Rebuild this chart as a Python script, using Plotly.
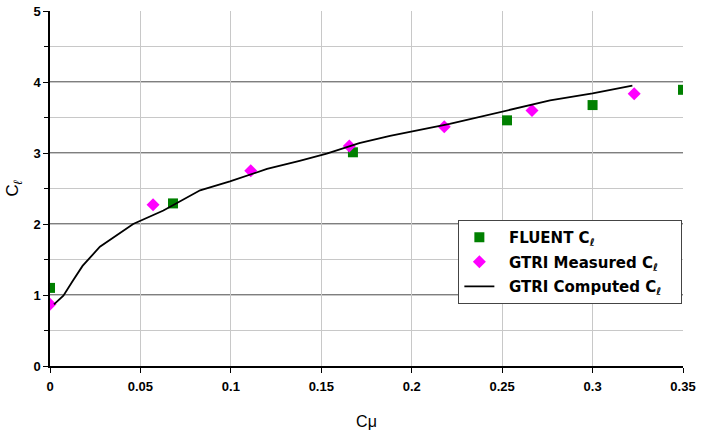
import plotly.graph_objects as go

# FLUENT Cl
fluent_cmu = [0.0, 0.068, 0.1675, 0.2527, 0.300, 0.350]
fluent_cl = [1.10, 2.29, 3.01, 3.46, 3.675, 3.89]

# GTRI measured Cl
meas_cmu = [0.0, 0.057, 0.111, 0.1655, 0.218, 0.2665, 0.323]
meas_cl = [0.87, 2.27, 2.75, 3.10, 3.37, 3.60, 3.835]

# GTRI computed Cl
comp_cmu = [0.0022, 0.0074, 0.0129, 0.018, 0.0276, 0.0369, 0.046, 0.0627, 0.083,
            0.0995, 0.12, 0.138, 0.153, 0.171, 0.188, 0.221, 0.2506, 0.2765, 0.300, 0.322]
comp_cl = [0.867, 0.99, 1.21, 1.41, 1.68, 1.84, 2.00, 2.19, 2.475,
           2.60, 2.775, 2.89, 2.99, 3.14, 3.24, 3.41, 3.59, 3.74, 3.84, 3.95]

x_ticks = [0, 0.05, 0.1, 0.15, 0.2, 0.25, 0.3, 0.35]
x_ticktext = ["0", "0.05", "0.1", "0.15", "0.2", "0.25", "0.3", "0.35"]
y_ticks = [0, 1, 2, 3, 4, 5]
y_major_lines = [1, 2, 3, 4]

sub = "C<sub><i>ℓ</i></sub>"
pad_l = "&nbsp;&nbsp;"
pad_r = "&nbsp;&nbsp;&nbsp;"

fig = go.Figure()
fig.add_trace(go.Scatter(x=fluent_cmu, y=fluent_cl, mode="markers",
                         name=pad_l + "<b>FLUENT " + sub + "</b>" + pad_r, legendgroup="a",
                         marker=dict(symbol="square", size=10, color="#008000")))
fig.add_trace(go.Scatter(x=meas_cmu, y=meas_cl, mode="markers",
                         name=pad_l + "<b>GTRI Measured " + sub + "</b>" + pad_r, legendgroup="b",
                         marker=dict(symbol="diamond", size=10, color="#ff00ff")))
fig.add_trace(go.Scatter(x=comp_cmu, y=comp_cl, mode="lines",
                         name=pad_l + "<b>GTRI Computed " + sub + "</b>" + pad_r, legendgroup="c",
                         line=dict(color="black", width=1.8)))

for v in y_major_lines:
    fig.add_shape(type="line", xref="paper", x0=0, x1=1, yref="y", y0=v, y1=v,
                  line=dict(color="black", width=1.2), layer="between")

fig.update_layout(
    width=708, height=430,
    margin=dict(l=50, r=25, t=11, b=64),
    paper_bgcolor="white", plot_bgcolor="white",
    font=dict(family="Liberation Sans, Arial, sans-serif", color="black"),
    showlegend=True,
    legend=dict(x=0.999, xanchor="right", y=0.411, yanchor="top",
                bgcolor="white", bordercolor="#444", borderwidth=1,
                font=dict(size=15, family="DejaVu Sans", color="black"),
                tracegroupgap=2),
    xaxis=dict(range=[0, 0.35], tickvals=x_ticks, ticktext=x_ticktext,
               showgrid=True, gridcolor="#c8c8c8", gridwidth=1,
               showline=True, linecolor="black", linewidth=1.5,
               ticks="outside", ticklen=5, tickcolor="black",
               ticklabelstandoff=3,
               tickfont=dict(size=13, family="Liberation Sans", weight="bold"),
               title=dict(text="Cμ", font=dict(size=16), standoff=23),
               zeroline=False, automargin=False),
    yaxis=dict(range=[0, 5], tickvals=y_ticks,
               showgrid=False,
               minor=dict(dtick=0.5, tick0=0, showgrid=True, gridcolor="#c8c8c8",
                          ticks="outside", ticklen=4, tickcolor="black"),
               showline=True, linecolor="black", linewidth=1.5,
               ticks="outside", ticklen=5, tickcolor="black",
               tickfont=dict(size=13, family="Liberation Sans", weight="bold"),
               title=dict(text=sub, font=dict(size=17), standoff=10),
               zeroline=False, automargin=False),
)

fig.write_html("out.html")
